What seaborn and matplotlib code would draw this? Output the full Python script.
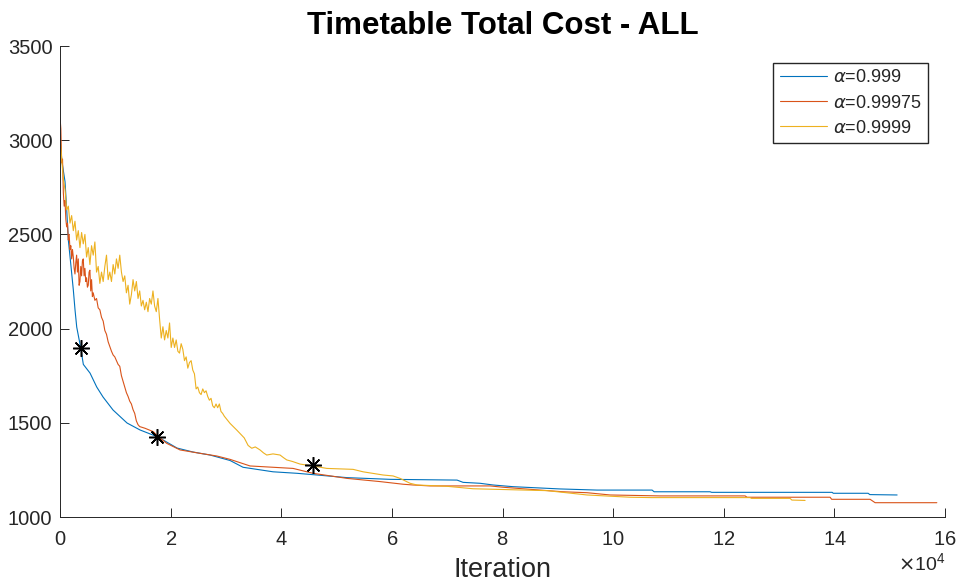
import numpy as np
import pandas as pd
import matplotlib
matplotlib.use('Agg')
import matplotlib.pyplot as plt
import seaborn as sns
from matplotlib.ticker import ScalarFormatter, MultipleLocator

sns.set_theme(style='white')
plt.rcParams['font.family'] = ['Liberation Sans', 'DejaVu Sans']

# series labels / colours (MATLAB default order)
labels = [r'$\alpha$=0.999', r'$\alpha$=0.99975', r'$\alpha$=0.9999']
colors = ['#0072BD', '#D95319', '#EDB120']

# alpha = 0.999
blue_x = [0, 181, 307, 904, 1211, 1501, 1989, 2405, 2712, 3019, 3743, 4213, 5424,
          6635, 7774, 9582, 12114, 14464, 16814, 18622, 21154, 24046, 27120, 30736,
          33086, 38510, 42850, 46466, 51890, 59664, 71778, 72862, 75936, 78286, 81902,
          90400, 97090, 107034, 107400, 117520, 117800, 139578, 139800, 146086, 146400,
          151330]
blue_y = [3000, 2950, 2895, 2780, 2630, 2470, 2329, 2205, 2099, 2008, 1897, 1810, 1764,
          1690, 1637, 1568, 1499, 1462, 1435, 1409, 1366, 1345, 1329, 1300,
          1264, 1240, 1232, 1223, 1209, 1200, 1196, 1184, 1179, 1170, 1161,
          1149, 1143, 1143, 1134, 1134, 1131, 1131, 1126, 1126, 1119,
          1117]

# alpha = 0.99975
orange_x = [0, 150, 300, 450, 600, 750, 900, 1050, 1200, 1350, 1500, 1650, 1800, 1950,
            2100, 2250, 2400, 2550, 2700, 2850, 3000, 3150, 3300, 3450, 3600, 3750, 3900,
            4050, 4200, 4350, 4500, 4650, 4800, 4950, 5100, 5250, 5400, 5550, 5700, 5850,
            6000, 6300, 6600, 6900, 7200, 7500, 7800, 8100, 8400, 8700, 9000, 9300, 9600,
            9900, 10200, 10500, 10800, 11100, 11400, 11700, 12000, 12300, 12600, 12900,
            13200, 13500, 13800, 14100, 14400, 15368, 16868, 17773, 19291, 21696, 25312,
            28331, 30736, 34352, 42126, 45742, 51890, 57856, 62014, 63822, 66896, 77744,
            80094, 86784, 90942, 95282, 99440, 108480, 123848, 124200, 139216, 139500,
            146448, 146800, 147352, 158510]
orange_y = [3120, 3060, 2880, 2900, 2720, 2650, 2680, 2580, 2540, 2560, 2470, 2500, 2420, 2440,
            2370, 2420, 2380, 2320, 2290, 2350, 2390, 2300, 2370, 2230, 2250, 2330, 2280,
            2360, 2370, 2280, 2320, 2250, 2270, 2220, 2230, 2300, 2310, 2200, 2260, 2170,
            2190, 2150, 2160, 2110, 2100, 2060, 2040, 1990, 1970, 1930, 1905, 1880, 1860,
            1850, 1830, 1810, 1800, 1750, 1720, 1690, 1660, 1640, 1615, 1600,
            1570, 1550, 1510, 1490, 1480, 1471, 1453, 1426, 1391, 1356, 1338,
            1324, 1306, 1271, 1258, 1232, 1205, 1188, 1174, 1170, 1165, 1165,
            1158, 1143, 1134, 1129, 1117, 1112, 1112, 1105, 1105, 1094,
            1094, 1087, 1076, 1076]

# alpha = 0.9999
yellow_x = [0, 300, 600, 900, 1200, 1500, 1800, 2100, 2400, 2700, 3000, 3300, 3600, 3900,
            4200, 4500, 4800, 5100, 5400, 5700, 6000, 6300, 6600, 6900, 7200, 7500, 7800,
            8100, 8400, 8700, 9000, 9300, 9600, 9900, 10200, 10500, 10800, 11100, 11400,
            11700, 12000, 12300, 12600, 12900, 13200, 13500, 13800, 14100, 14400, 14700,
            15000, 15300, 15600, 15900, 16200, 16500, 16800, 17100, 17400, 17700, 18000,
            18300, 18600, 18900, 19200, 19500, 19800, 20100, 20400, 20700, 21000, 21300,
            21600, 21900, 22200, 22500, 22800, 23100, 23400, 23700, 24000, 24300, 24600,
            24900, 25200, 25500, 25800, 26100, 26400, 26700, 27000, 27300, 27600, 27900,
            28200, 28500, 28800, 29100, 29400, 29700, 30000, 30736, 31500, 32000, 32544,
            33300, 34000, 34659, 35300, 36160, 36800, 37371, 38500, 39776, 40400, 40987,
            42000, 43392, 44500, 45742, 48220, 52974, 54782, 58398, 60206, 61472, 63280,
            64546, 69970, 74670, 88050, 95282, 103056, 107000, 124752, 125000, 131984,
            132300, 134696]
yellow_y = [3020, 2900, 2790, 2740, 2630, 2650, 2560, 2600, 2520, 2570, 2470, 2520, 2430, 2510,
            2450, 2500, 2380, 2430, 2340, 2440, 2390, 2460, 2300, 2330, 2240, 2300, 2250,
            2330, 2390, 2260, 2300, 2250, 2340, 2290, 2370, 2320, 2390, 2300, 2250,
            2280, 2190, 2230, 2130, 2180, 2260, 2200, 2250, 2160, 2200, 2120,
            2150, 2100, 2140, 2090, 2160, 2130, 2200, 2120, 2090, 2160, 2050,
            1950, 2010, 1940, 1990, 1950, 2030, 1900, 1950, 1900, 1940, 1880,
            1870, 1920, 1890, 1830, 1850, 1790, 1820, 1830, 1780, 1760, 1680,
            1690, 1660, 1650, 1680, 1660, 1670, 1640, 1620, 1630, 1590, 1580,
            1600, 1580, 1600, 1560, 1550, 1535, 1524, 1497, 1475, 1460, 1443,
            1420, 1380, 1365, 1372, 1356, 1340, 1329, 1335, 1329, 1315, 1303,
            1295, 1281, 1276, 1271, 1258, 1253, 1240, 1223, 1218, 1205, 1179,
            1170, 1163, 1150, 1140, 1117, 1105, 1103, 1103, 1099, 1099,
            1090, 1088]

# '*' markers on each curve
star_x = [3800, 17600, 45700]
star_y = [1897, 1425, 1278]


class TenToFour(ScalarFormatter):
    # MATLAB style fixed x10^4 exponent
    def _set_order_of_magnitude(self):
        self.orderOfMagnitude = 4


df = pd.concat([
    pd.DataFrame({'iter': blue_x, 'cost': blue_y, 'alpha': labels[0]}),
    pd.DataFrame({'iter': orange_x, 'cost': orange_y, 'alpha': labels[1]}),
    pd.DataFrame({'iter': yellow_x, 'cost': yellow_y, 'alpha': labels[2]}),
], ignore_index=True)

fig = plt.figure(figsize=(9.62, 5.84), dpi=100)
ax = fig.add_axes([0.0624, 0.1147, 0.920, 0.8065])

sns.lineplot(data=df, x='iter', y='cost', hue='alpha', hue_order=labels,
             palette=dict(zip(labels, colors)), estimator=None, sort=False,
             linewidth=0.8, ax=ax)
ax.plot(star_x, star_y, linestyle='none', marker=(8, 2, 0), markersize=12,
        markeredgewidth=1.1, color='black')

ax.set_xlim(0, 160000)
ax.set_ylim(1000, 3500)
ax.xaxis.set_major_locator(MultipleLocator(20000))
ax.yaxis.set_major_locator(MultipleLocator(500))
ax.xaxis.set_major_formatter(TenToFour(useMathText=True))
ax.xaxis.get_offset_text().set_fontsize(14)
ax.xaxis.get_offset_text().set_color('#262626')

for side in ['top', 'right']:
    ax.spines[side].set_visible(False)
for side in ['left', 'bottom']:
    ax.spines[side].set_color('#262626')
    ax.spines[side].set_linewidth(0.7)
ax.tick_params(bottom=True, left=True, direction='in', length=6.5, width=0.7,
               color='#262626', labelcolor='#262626', labelsize=14.5)
ax.tick_params(axis='x', pad=9)
ax.tick_params(axis='y', pad=5.5)

ax.set_title('Timetable Total Cost - ALL', fontsize=22.5, fontweight='bold',
             color='black', pad=9)
ax.set_xlabel('Iteration', fontsize=19.5, color='#262626', labelpad=6)
ax.set_ylabel('')

handles, lbls = ax.get_legend_handles_labels()
ax.legend(handles[:3], lbls[:3], loc='upper right', fontsize=13, handlelength=2.6,
          borderaxespad=0.95, fancybox=False, edgecolor='#262626', framealpha=1,
          borderpad=0.35, labelspacing=0.45, handletextpad=0.35)

fig.savefig('out.png', dpi=100)
